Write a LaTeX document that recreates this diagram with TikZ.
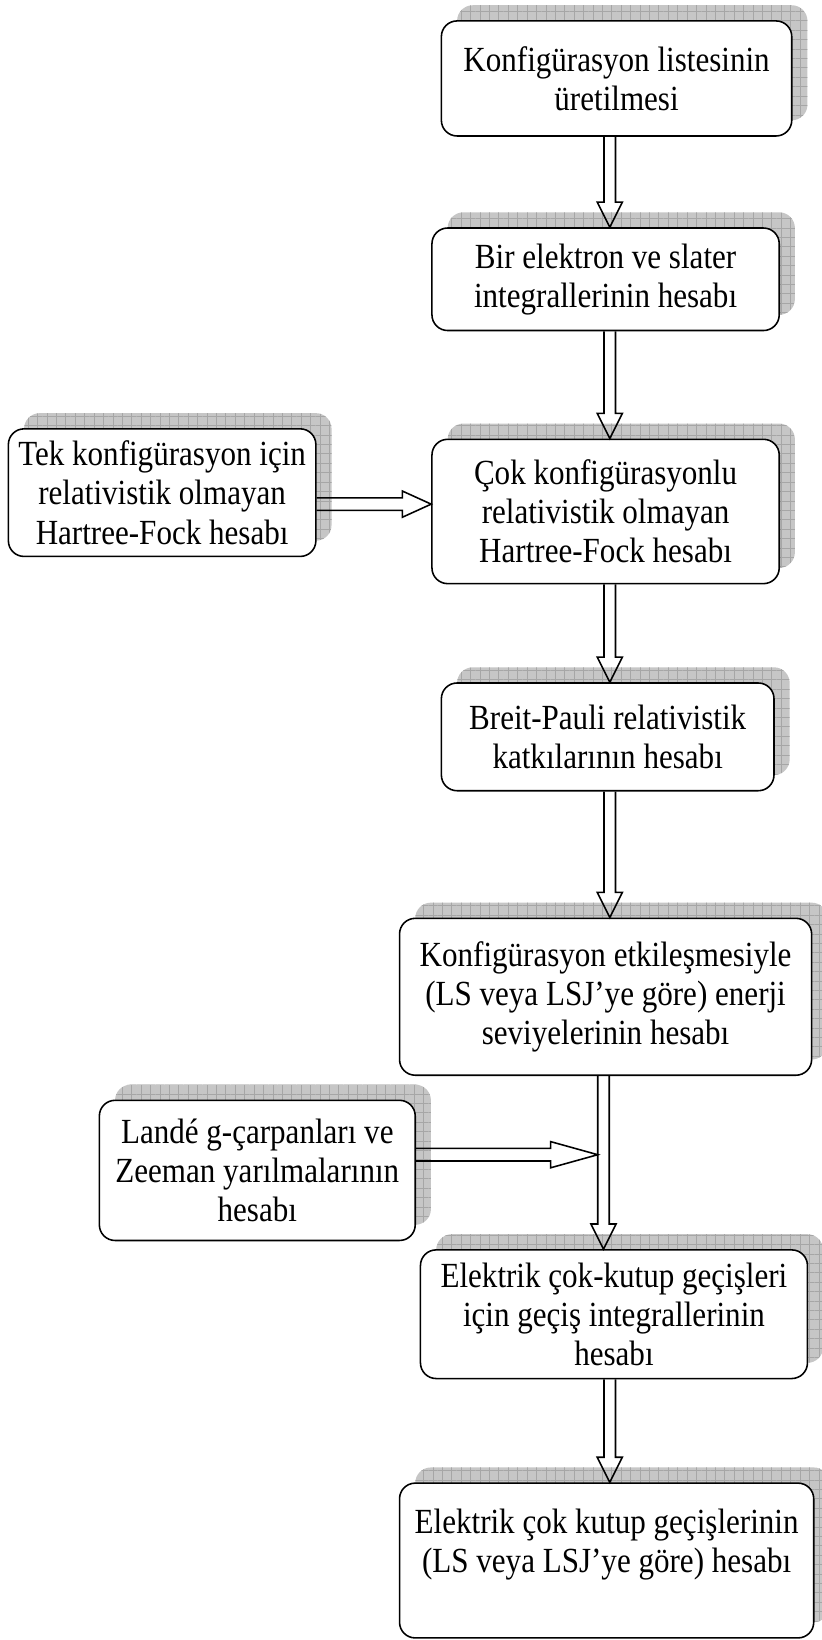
\documentclass[tikz,border=0pt]{standalone}
\usepackage{fontspec}
\setmainfont{Liberation Serif}[FakeStretch=0.88]
\usetikzlibrary{shadows,patterns.meta}

\tikzset{
  flowshaft/.store in=\flowshaft,
  flowhead/.store in=\flowhead,
  flowlen/.store in=\flowlen,
  flowshaft=2.2pt, flowhead=4.8pt, flowlen=9.6pt,
  stepbox/.style={draw, line width=0.6pt, rounded corners=6pt, fill=white,
    align=center, inner sep=0pt, font=\fontsize{13.5}{15}\selectfont,
    general shadow={shadow xshift=6pt, shadow yshift=6pt, fill=gray!45},
    general shadow={shadow xshift=6pt, shadow yshift=6pt,
      pattern={Hatch[distance=3.6pt, line width=0.35pt]}, pattern color=gray!70}},
  % hollow arrow pointing down
  vflow/.style={draw, line width=0.6pt, to path={
    ([xshift=-\flowshaft]\tikztostart) -- ([xshift=-\flowshaft, yshift=\flowlen]\tikztotarget)
    -- ([xshift=-\flowhead, yshift=\flowlen]\tikztotarget) -- (\tikztotarget)
    -- ([xshift=\flowhead, yshift=\flowlen]\tikztotarget)
    -- ([xshift=\flowshaft, yshift=\flowlen]\tikztotarget) -- ([xshift=\flowshaft]\tikztostart)}},
  % hollow arrow pointing right
  hflow/.style={draw, line width=0.6pt, to path={
    ([yshift=\flowshaft]\tikztostart) -- ([xshift=-\flowlen, yshift=\flowshaft]\tikztotarget)
    -- ([xshift=-\flowlen, yshift=\flowhead]\tikztotarget) -- (\tikztotarget)
    -- ([xshift=-\flowlen, yshift=-\flowhead]\tikztotarget)
    -- ([xshift=-\flowlen, yshift=-\flowshaft]\tikztotarget) -- ([yshift=-\flowshaft]\tikztostart)}}
}

\begin{document}
\begin{tikzpicture}[x=0.4pt, y=-0.4pt]
  \useasboundingbox (0,0) rectangle (785,1568);

  % main column
  \node[stepbox, minimum width=134pt, minimum height=44pt] (k1) at (589.5,75)
    {Konfigürasyon listesinin\\üretilmesi};
  \node[stepbox, minimum width=132.8pt, minimum height=39.2pt] (k2) at (579,267)
    {Bir elektron ve slater\\integrallerinin hesabı};
  \node[stepbox, minimum width=132.8pt, minimum height=55.2pt] (k3) at (579,489)
    {Çok konfigürasyonlu\\relativistik olmayan\\Hartree-Fock hesabı};
  \node[stepbox, minimum width=127.2pt, minimum height=41.2pt] (k4) at (581,704.5)
    {Breit-Pauli relativistik\\katkılarının hesabı};
  \node[stepbox, minimum width=157.6pt, minimum height=60pt] (k5) at (579,953)
    {Konfigürasyon etkileşmesiyle\\(LS veya LSJ’ye göre) enerji\\seviyelerinin hesabı};
  \node[stepbox, minimum width=148pt, minimum height=49.2pt] (k6) at (587,1256.5)
    {Elektrik çok-kutup geçişleri\\için geçiş integrallerinin\\hesabı};
  \node[stepbox, minimum width=158.4pt, minimum height=59.2pt] (k7) at (580,1492)
    {Elektrik çok kutup geçişlerinin\\(LS veya LSJ’ye göre) hesabı\\\mbox{}};

  % side inputs
  \node[stepbox, minimum width=117.6pt, minimum height=48.8pt] (t1) at (155,471)
    {Tek konfigürasyon için\\relativistik olmayan\\Hartree-Fock hesabı};
  \node[stepbox, minimum width=120.8pt, minimum height=53.6pt] (t2) at (246,1119)
    {Landé g-çarpanları ve\\Zeeman yarılmalarının\\hesabı};

  \coordinate (ax) at (583,0);
  \coordinate (bx) at (577,0);
  \coordinate (ay) at (0,482);
  \coordinate (by) at (0,1104);
  \coordinate (hit) at (571.5,1104);

  \draw[vflow] (k1.south -| ax) to (k2.north -| ax);
  \draw[vflow] (k2.south -| ax) to (k3.north -| ax);
  \draw[vflow] (k3.south -| ax) to (k4.north -| ax);
  \draw[vflow] (k4.south -| ax) to (k5.north -| ax);
  \draw[vflow] (k5.south -| bx) to (k6.north -| bx);
  \draw[vflow] (k6.south -| ax) to (k7.north -| ax);

  \draw[hflow, flowshaft=2.4pt, flowhead=5pt, flowlen=11pt] (t1.east |- ay) to (k3.west |- ay);
  \draw[hflow, flowshaft=2.4pt, flowhead=5pt, flowlen=18pt] (t2.east |- by) to (hit);
\end{tikzpicture}
\end{document}
